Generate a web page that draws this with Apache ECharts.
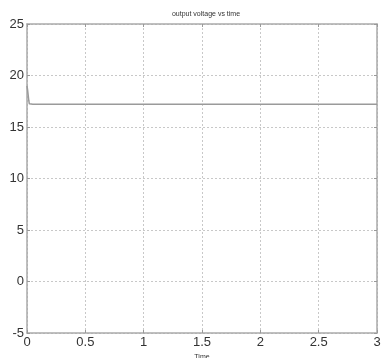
<!DOCTYPE html>
<html><head><meta charset="utf-8">
<script src="https://cdn.jsdelivr.net/npm/echarts@6/dist/echarts.min.js"></script>
<style>html,body{margin:0;padding:0;background:#fff}#c{width:382px;height:358px}</style>
</head><body><div id="c"></div>
<script>
const title = 'output voltage vs time';
const xName = 'Time';
const timeValues = [0, 0.005, 0.01, 0.015, 0.02, 0.025, 0.05, 3];
const voltageValues = [19.0, 18.6, 18.1, 17.6, 17.25, 17.2, 17.2, 17.2];
const xTicks = [0, 0.5, 1, 1.5, 2, 2.5, 3];
const yTicks = [-5, 0, 5, 10, 15, 20, 25];

const chart = echarts.init(document.getElementById('c'));
const axisLine = {show: true, onZero: false, lineStyle: {color: '#aaaaaa', width: 1.5}};
const grid = {show: true, lineStyle: {color: '#c8c8c8', type: [2, 2], width: 1}};
const tick = {show: true, inside: true, length: 3, lineStyle: {color: '#999'}};
chart.setOption({
  animation: false,
  title: {text: title, left: 201, top: 6, textAlign: 'center',
    textStyle: {fontSize: 7, fontWeight: 'normal', color: '#333', fontFamily: 'Liberation Sans'}},
  grid: {left: 27, right: 5, top: 24, bottom: 25, containLabel: false, outerBoundsMode: 'none'},
  xAxis: [{
    type: 'value', min: xTicks[0], max: xTicks[xTicks.length - 1], interval: 0.5,
    name: xName, nameLocation: 'middle', nameGap: 16,
    nameTextStyle: {fontSize: 7, color: '#333', fontFamily: 'Liberation Sans'},
    axisLine: axisLine, axisTick: tick,
    splitLine: grid,
    axisLabel: {fontSize: 13, color: '#333', margin: 3, fontFamily: 'Liberation Sans'}
  }, {
    type: 'value', position: 'top', min: 0, max: 3, interval: 0.5,
    axisLine: axisLine, axisTick: tick,
    axisLabel: {show: false}, splitLine: {show: false}
  }],
  yAxis: [{
    type: 'value', min: yTicks[0], max: yTicks[yTicks.length - 1], interval: 5,
    axisLine: axisLine, axisTick: tick,
    splitLine: grid,
    axisLabel: {fontSize: 13, color: '#333', margin: 3, fontFamily: 'Liberation Sans'}
  }, {
    type: 'value', position: 'right', min: -5, max: 25, interval: 5,
    axisLine: axisLine, axisTick: tick,
    axisLabel: {show: false}, splitLine: {show: false}
  }],
  series: [{
    type: 'line', showSymbol: false, symbol: 'none',
    data: timeValues.map((t, i) => [t, voltageValues[i]]),
    lineStyle: {color: '#9a9a9a', width: 1.5}
  }]
});
</script></body></html>
